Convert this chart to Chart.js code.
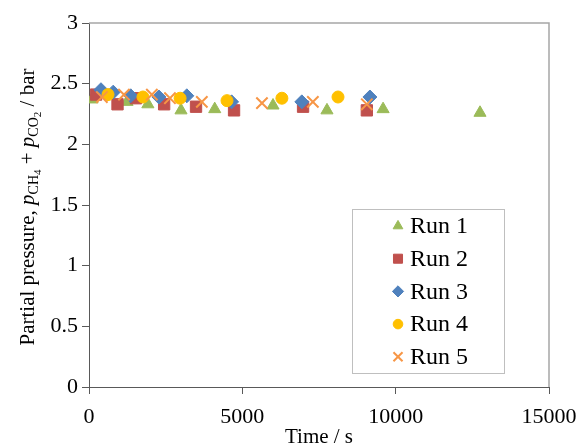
<!DOCTYPE html>
<html>
<head>
<meta charset="utf-8">
<script src="https://cdn.jsdelivr.net/npm/chart.js@4.4.1/dist/chart.umd.min.js"></script>
<style>
  html, body { margin: 0; padding: 0; background: #fff; }
</style>
</head>
<body>
<canvas id="chart" width="579" height="443"></canvas>
<script>
// values (time in s, partial pressure in bar)
const run1Time = [100, 1240, 1920, 3000, 4100, 6000, 7760, 9590, 12750];
const run1P    = [2.37, 2.35, 2.33, 2.28, 2.29, 2.32, 2.28, 2.29, 2.26];
const run2Time = [230, 930, 1530, 2450, 3490, 4730, 6980, 9060];
const run2P    = [2.41, 2.33, 2.38, 2.33, 2.31, 2.28, 2.31, 2.28];
const run3Time = [390, 790, 1360, 2280, 3190, 4650, 6940, 9160];
const run3P    = [2.45, 2.43, 2.40, 2.39, 2.40, 2.35, 2.35, 2.39];
const run4Time = [620, 1760, 2970, 4500, 6290, 8120];
const run4P    = [2.41, 2.39, 2.38, 2.36, 2.38, 2.39];
const run5Time = [420, 1140, 2050, 2640, 3680, 5640, 7300, 9060];
const run5P    = [2.39, 2.41, 2.41, 2.38, 2.35, 2.34, 2.35, 2.33];

const runLabels = ['Run 1', 'Run 2', 'Run 3', 'Run 4', 'Run 5'];
const xTicks = [0, 5000, 10000, 15000];
const yTicks = [0, 0.5, 1, 1.5, 2, 2.5, 3];

const serif = 'Liberation Serif';

const toPoints = (xs, ys) => xs.map((x, i) => ({ x: x, y: ys[i] }));

// Grey frame on top and right of the plot area
const frame = {
  id: 'frame',
  beforeDatasetsDraw(chart) {
    const { ctx, chartArea: a } = chart;
    ctx.save();
    ctx.strokeStyle = '#a6a6a6';
    ctx.lineWidth = 1.5;
    ctx.beginPath();
    ctx.moveTo(a.left, a.top);
    ctx.lineTo(a.right, a.top);
    ctx.lineTo(a.right, a.bottom);
    ctx.stroke();
    ctx.restore();
  }
};

// y title with italic p and subscripts
const yTitle = {
  id: 'yTitle',
  afterDraw(chart) {
    const ctx = chart.ctx;
    const parts = [
      { t: 'Partial pressure, ', f: '21px ' + serif, dy: 0 },
      { t: 'p', f: 'italic 21px ' + serif, dy: 0 },
      { t: 'CH', f: '14px ' + serif, dy: 4 },
      { t: '4', f: '11px ' + serif, dy: 7 },
      { t: ' + ', f: '21px ' + serif, dy: 0 },
      { t: 'p', f: 'italic 21px ' + serif, dy: 0 },
      { t: 'CO', f: '14px ' + serif, dy: 4 },
      { t: '2', f: '11px ' + serif, dy: 7 },
      { t: ' / bar', f: '21px ' + serif, dy: 0 }
    ];
    ctx.save();
    let total = 0;
    parts.forEach(p => { ctx.font = p.f; p.w = ctx.measureText(p.t).width; total += p.w; });
    ctx.translate(34, 207);
    ctx.rotate(-Math.PI / 2);
    ctx.fillStyle = '#000';
    ctx.textBaseline = 'alphabetic';
    let x = -total / 2;
    parts.forEach(p => {
      ctx.font = p.f;
      ctx.fillText(p.t, x, p.dy);
      x += p.w;
    });
    ctx.restore();
  }
};

// legend box inside the plot
const boxLegend = {
  id: 'boxLegend',
  afterDraw(chart) {
    const ctx = chart.ctx;
    ctx.save();
    ctx.fillStyle = '#fff';
    ctx.fillRect(352, 209, 152, 164);
    ctx.strokeStyle = '#bfbfbf';
    ctx.lineWidth = 1;
    ctx.strokeRect(352.5, 209.5, 152, 164);
    chart.data.datasets.forEach((ds, i) => {
      const y = 226 + i * 32.7;
      ctx.fillStyle = ds.backgroundColor;
      ctx.strokeStyle = ds.borderColor;
      ctx.lineWidth = ds.borderWidth;
      if (Chart.helpers && Chart.helpers.drawPoint) {
        Chart.helpers.drawPoint(ctx, {
          pointStyle: ds.pointStyle,
          rotation: 0,
          radius: ds.pointRadius * 0.8,
          borderWidth: ds.borderWidth
        }, 398, y);
      }
      ctx.fillStyle = '#000';
      ctx.font = '24px ' + serif;
      ctx.textBaseline = 'middle';
      ctx.textAlign = 'left';
      ctx.fillText(ds.label, 410, y + 1);
    });
    ctx.restore();
  }
};

const styles = [
  { pointStyle: 'triangle', pointRadius: 7, color: '#9BBB59', bw: 1 },
  { pointStyle: 'rect', pointRadius: 8, color: '#C0504D', bw: 1 },
  { pointStyle: 'rectRot', pointRadius: 7, color: '#4F81BD', bw: 1 },
  { pointStyle: 'circle', pointRadius: 6, color: '#FFC000', bw: 1 },
  { pointStyle: 'crossRot', pointRadius: 8, color: '#F79646', bw: 2 }
];
const series = [
  toPoints(run1Time, run1P),
  toPoints(run2Time, run2P),
  toPoints(run3Time, run3P),
  toPoints(run4Time, run4P),
  toPoints(run5Time, run5P)
];

const datasets = series.map((pts, i) => ({
  label: runLabels[i],
  data: pts,
  pointStyle: styles[i].pointStyle,
  pointRadius: styles[i].pointRadius,
  pointHoverRadius: styles[i].pointRadius,
  backgroundColor: styles[i].color,
  borderColor: styles[i].color,
  borderWidth: styles[i].bw,
  showLine: false,
  order: 5 - i // later runs drawn on top
}));

const axisColor = '#595959';

new Chart(document.getElementById('chart'), {
  type: 'scatter',
  data: { datasets: datasets },
  options: {
    responsive: false,
    animation: false,
    layout: { padding: { top: 23, right: 30, left: 0, bottom: 0 } },
    plugins: {
      legend: { display: false },
      tooltip: { enabled: false }
    },
    scales: {
      x: {
        type: 'linear',
        min: 0,
        max: 15000,
        afterBuildTicks: s => { s.ticks = xTicks.map(v => ({ value: v })); },
        afterFit: s => { s.height = 56; s.paddingLeft = 0; s.paddingRight = 0; },
        ticks: {
          color: '#000',
          padding: 10,
          maxRotation: 0,
          font: { family: serif, size: 22 },
          callback: v => String(v)
        },
        grid: { drawOnChartArea: false, tickLength: 7, color: axisColor },
        border: { color: axisColor, width: 1 },
        title: {
          display: true,
          text: 'Time / s',
          color: '#000',
          font: { family: serif, size: 21 },
          padding: { top: 0, bottom: -7 }
        }
      },
      y: {
        min: 0,
        max: 3,
        afterBuildTicks: s => { s.ticks = yTicks.map(v => ({ value: v })); },
        afterFit: s => { s.width = 89; },
        ticks: {
          color: '#000',
          padding: 4,
          font: { family: serif, size: 22 },
          callback: v => String(v)
        },
        grid: { drawOnChartArea: false, tickLength: 7, color: axisColor },
        border: { color: axisColor, width: 1 }
      }
    }
  },
  plugins: [frame, yTitle, boxLegend]
});
</script>
</body>
</html>
